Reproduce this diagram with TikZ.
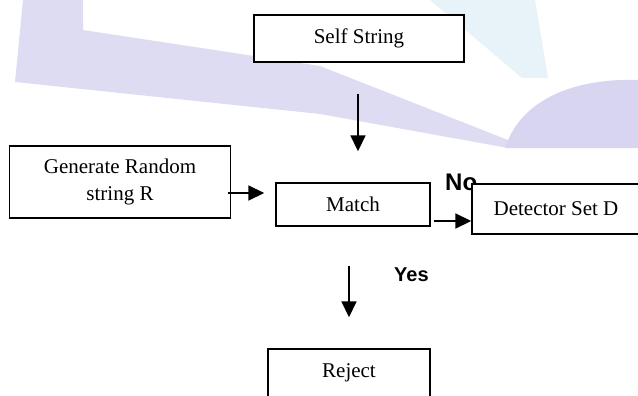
\documentclass[tikz,border=0pt]{standalone}
\usepackage{fontspec}
\setmainfont{Liberation Serif}
\newfontfamily\labelfont{Liberation Sans}
\usetikzlibrary{arrows.meta}

\definecolor{wmlav}{RGB}{222,220,243}
\definecolor{wmblob}{RGB}{215,213,240}
\definecolor{wmblue}{RGB}{231,242,249}

\begin{document}
\begin{tikzpicture}[x=1pt, y=-1pt,
    box/.style={draw, line width=1.4pt, fill=white, align=center, inner sep=0pt,
        font=\fontsize{21}{27}\selectfont},
    arr/.style={line width=1.7pt, -{Triangle[length=16pt,width=15pt]}},
    lbl/.style={inner sep=0pt, anchor=base west}]
    \useasboundingbox (0,0) rectangle (638,396);
    \clip (0,0) rectangle (638,396);
    % faint background
    \fill[wmblue] (430,0) -- (535,0) -- (548,78) -- (522,78) -- cycle;
    \fill[wmlav] (23,0) -- (83,0) -- (83,30) -- (320,66) -- (508,140) -- (508,148)
        -- (320,114) -- (15,82) -- cycle;
    \fill[wmblob] (505,148) .. controls (522,96) and (580,78) .. (638,80) -- (638,148) -- cycle;
    % boxes
    \node[box, minimum width=210pt, minimum height=47pt] (self) at (359,38.5) {Self String};
    \node[box, minimum width=221pt, minimum height=72pt] (gen) at (120,182) {Generate Random\\string R};
    \node[box, minimum width=154pt, minimum height=43pt] (match) at (353,204.5) {Match};
    \node[lbl, font=\labelfont\bfseries\fontsize{24}{28}\selectfont] (no) at (445,190) {No};
    \node[box, minimum width=168pt, minimum height=50pt] (det) at (556,209) {Detector Set D};
    \node[box, minimum width=162pt, minimum height=48pt] (reject) at (349,373) {Reject};
    \node[lbl, font=\labelfont\bfseries\fontsize{20}{24}\selectfont] (yes) at (394,281) {Yes};
    % arrows
    \coordinate (g) at ([yshift=-11pt]gen.east);
    \coordinate (m) at ([yshift=-16.5pt]match.east);
    \coordinate (y) at ([xshift=-4pt]match.south);
    \draw[arr, shorten <=31pt, shorten >=31pt] ([xshift=-1pt]self.south) -- ([xshift=-1pt]self.south |- match.north);
    \draw[arr, shorten <=-3pt, shorten >=11pt] (g) -- (g -| match.west);
    \draw[arr, shorten <=3pt] (m) -- (m -| det.west);
    \draw[arr, shorten <=39pt, shorten >=31pt] (y) -- (y |- reject.north);
\end{tikzpicture}
\end{document}
